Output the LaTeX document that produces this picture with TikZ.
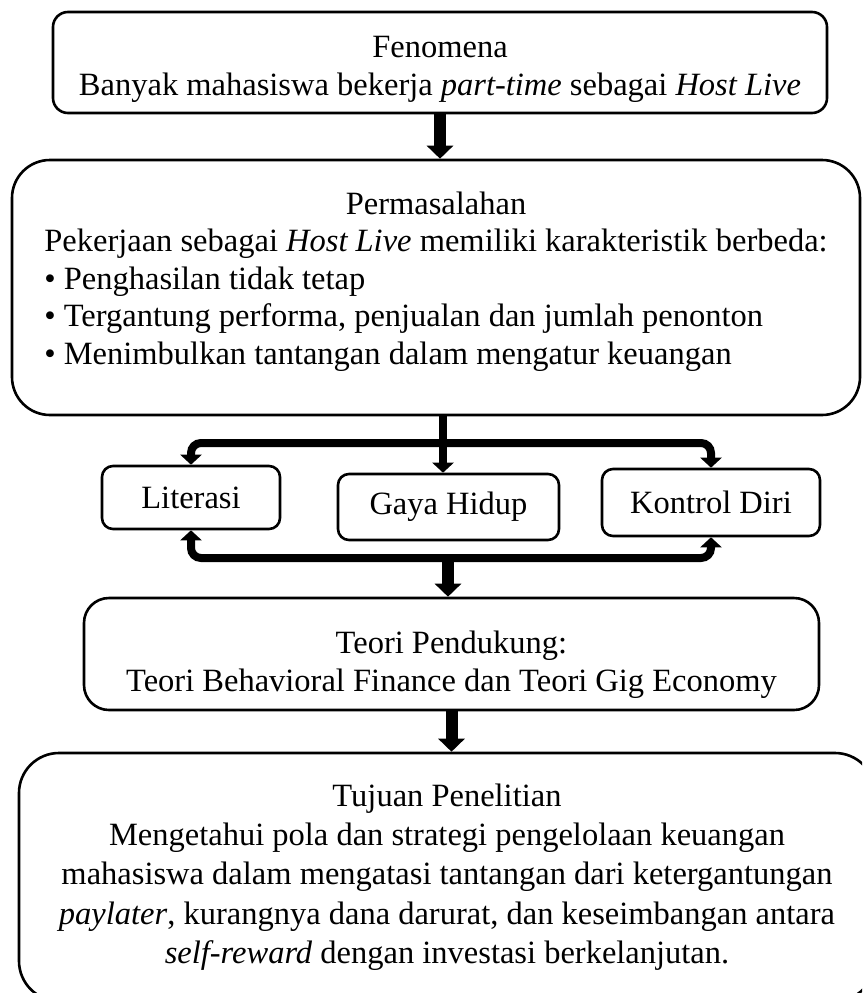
\documentclass[tikz,border=0pt]{standalone}
\usepackage{fontspec}
\setmainfont{Liberation Serif}
\usetikzlibrary{arrows.meta}
\usetikzlibrary{positioning}
\newcommand{\bigfont}{\fontsize{32.5}{37.5}\selectfont}

\begin{document}
\begin{tikzpicture}[x=1pt, y=-1pt,
    panel/.style={draw, line width=2.6pt, inner sep=0pt, font=\bigfont, align=center},
    item/.style={panel, rounded corners=11pt},
    flow/.style={-{Triangle[length=13pt,width=26pt]}, line width=12pt},
    branch/.style={-{Triangle[length=10pt,width=21pt]}, line width=8pt, rounded corners=10pt},
]
\clip (0,0) rectangle (862,993);

\node[panel, rounded corners=15pt, minimum width=774pt, minimum height=101pt] (fen) at (440,62.5)
    {\begin{tabular}{@{}c@{}}\rule{0pt}{38.75pt}Fenomena\\ Banyak mahasiswa bekerja \textit{part-time} sebagai \textit{Host Live}\end{tabular}};
\node[panel, rounded corners=38pt, minimum width=848pt, minimum height=255pt] (perm) at (436,287.5)
    {\begin{tabular}{@{}l@{}}\multicolumn{1}{@{}c@{}}{Permasalahan}\\
    Pekerjaan sebagai \textit{Host Live} memiliki karakteristik berbeda:\\
    \textbullet\ Penghasilan tidak tetap\\
    \textbullet\ Tergantung performa, penjualan dan jumlah penonton\\
    \textbullet\ Menimbulkan tantangan dalam mengatur keuangan\rule[-23.25pt]{0pt}{23.25pt}\end{tabular}};

\node[item, minimum width=178pt, minimum height=63pt] (lit) at (191,497.5) {Literasi};
\node[item, minimum width=221pt, minimum height=66pt] (gaya) at (448.5,507) {Gaya Hidup};
\node[item, minimum width=218pt, minimum height=67pt] (kon) at (711,502.5) {Kontrol Diri};

\node[panel, rounded corners=25pt, minimum width=735pt, minimum height=112pt] (teori) at (451.5,654)
    {\begin{tabular}{@{}c@{}}\rule{0pt}{48.25pt}Teori Pendukung:\\ Teori Behavioral Finance dan Teori Gig Economy\end{tabular}};
\node[panel, rounded corners=40pt, minimum width=856pt, minimum height=248pt, font=\fontsize{32.5}{39.25}\selectfont] (tuj) at (447,877)
    {\begin{tabular}{@{}c@{}}Tujuan Penelitian\\
    Mengetahui pola dan strategi pengelolaan keuangan\\
    mahasiswa dalam mengatasi tantangan dari ketergantungan\\
    \textit{paylater}, kurangnya dana darurat, dan keseimbangan antara\\
    \textit{self-reward} dengan investasi berkelanjutan.\end{tabular}};

\coordinate (hub1) at (443,443);
\coordinate (hub2) at (448,558);

\draw[flow] (fen.south) -- (fen.south |- perm.north);

\draw[branch] (perm.south -| hub1) -- (gaya.north -| hub1);
\draw[branch] (hub1) -| (lit.north);
\draw[branch] (hub1) -| (kon.north);

\draw[branch] (hub2) -| (lit.south);
\draw[branch] (hub2) -| (kon.south);
\draw[flow] (hub2) -- (hub2 |- teori.north);

\draw[flow] (teori.south) -- (teori.south |- tuj.north);

\end{tikzpicture}
\end{document}
